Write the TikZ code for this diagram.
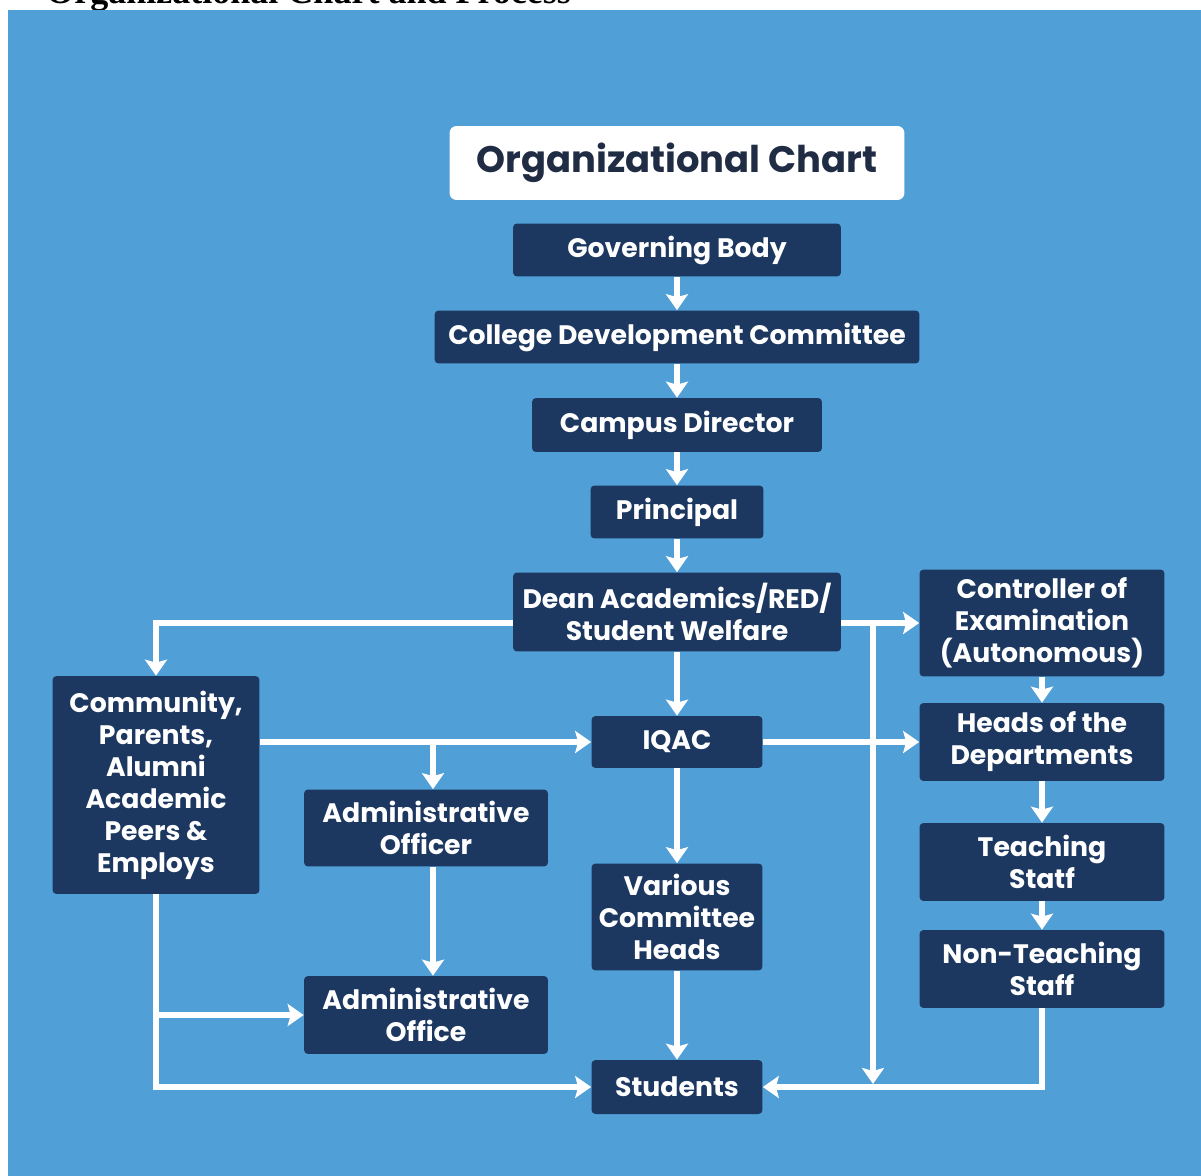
\documentclass[tikz,border=0pt]{standalone}
\usepackage{fontspec}
\setmainfont{Poppins}
\newfontfamily\serifttl{Liberation Serif}
\usetikzlibrary{arrows.meta,positioning}

\definecolor{bgblue}{RGB}{80,159,215}
\definecolor{navy}{RGB}{28,56,96}
\definecolor{ink}{RGB}{32,44,68}

\begin{document}
\begin{tikzpicture}
  [
   x=0.02cm, y=-0.02cm,
   box/.style={rectangle,rounded corners=0.08cm,fill=navy,text=white,inner sep=0pt,align=center,
     font=\fontsize{15.2}{18.2}\selectfont\bfseries},
   ttl/.style={rectangle,rounded corners=0.14cm,fill=white,text=ink,inner sep=0pt,
     font=\fontsize{21}{24}\selectfont\bfseries},
   arr/.style={draw=white,line width=0.12cm,-{Stealth[length=0.32cm,width=0.44cm,inset=0.06cm]}}
  ]
  \useasboundingbox (0,0) rectangle (1201,1176);
  \begin{scope}
    \clip (0,0) rectangle (1201,1176);
    \node[anchor=base west,inner sep=0pt,font=\serifttl\bfseries\fontsize{20.5}{24}\selectfont] (head) at (46,4) {Organizational Chart and Process};
  \end{scope}
  \fill[bgblue] (8,10) rectangle (1201,1176);

  % middle column
  \node[ttl,minimum width=9.1cm,minimum height=1.48cm] (ttl) at (677,163) {Organizational Chart};
  \node[box,minimum width=6.56cm,minimum height=1.06cm] (gb) at (677,250) {Governing Body};
  \node[box,minimum width=9.7cm,minimum height=1.06cm] (cdc) at (677,337) {College Development Committee};
  \node[box,minimum width=5.8cm,minimum height=1.08cm] (cd) at (677,425) {Campus Director};
  \node[box,minimum width=3.46cm,minimum height=1.06cm] (prin) at (677,512) {Principal};
  \node[box,minimum width=6.56cm,minimum height=1.58cm] (dean) at (677,612) {Dean Academics/RED/\\Student Welfare};
  \node[box,minimum width=3.42cm,minimum height=1.04cm] (iqac) at (677,742) {IQAC};
  \node[box,minimum width=3.42cm,minimum height=2.14cm] (vch) at (677,917) {Various\\Committee\\Heads};
  \node[box,minimum width=3.42cm,minimum height=1.08cm] (stu) at (677,1087) {Students};

  % left side
  \node[box,minimum width=4.14cm,minimum height=4.36cm] (comm) at (156,785) {Community,\\Parents,\\Alumni\\Academic\\Peers \&\\Employs};
  \node[box,minimum width=4.88cm,minimum height=1.54cm] (aoff) at (426,828) {Administrative\\Officer};
  \node[box,minimum width=4.88cm,minimum height=1.56cm] (aofc) at (426,1015) {Administrative\\Office};

  % right side
  \node[box,minimum width=4.9cm,minimum height=2.14cm] (ctrl) at (1042,623) {Controller of\\Examination\\(Autonomous)};
  \node[box,minimum width=4.9cm,minimum height=1.56cm] (hod) at (1042,742) {Heads of the\\Departments};
  \node[box,minimum width=4.9cm,minimum height=1.56cm] (tch) at (1042,862) {Teaching\\Statf};
  \node[box,minimum width=4.9cm,minimum height=1.56cm] (nts) at (1042,969) {Non-Teaching\\Staff};

  \coordinate (jr) at (873,623);
  \coordinate (jb) at (873,1084);
  \coordinate (ja) at (433,742);

  \draw[arr] (gb) -- (cdc);
  \draw[arr] (cdc) -- (cd);
  \draw[arr] (cd) -- (prin);
  \draw[arr] (prin) -- (dean);
  \draw[arr] (dean.west |- ctrl.west) -| (comm.north);
  \draw[arr] (dean.east |- ctrl.west) -- (ctrl.west);
  \draw[arr] (jr) -- (jb);
  \draw[arr] (dean) -- (iqac);
  \draw[arr] (comm.east |- iqac.west) -- (iqac.west);
  \draw[arr] (ja) -- (ja |- aoff.north);
  \draw[arr] (iqac) -- (hod);
  \draw[arr] (iqac) -- (vch);
  \draw[arr] (vch) -- (stu);
  \draw[arr] (ja |- aoff.south) -- (ja |- aofc.north);
  \draw[arr] (comm.south) |- (stu.west);
  \draw[arr] (comm.south |- aofc.west) -- (aofc.west);
  \draw[arr] (ctrl) -- (hod);
  \draw[arr] (hod) -- (tch);
  \draw[arr] (tch) -- (nts);
  \draw[arr] (nts.south) |- (stu.east);

\end{tikzpicture}
\end{document}
